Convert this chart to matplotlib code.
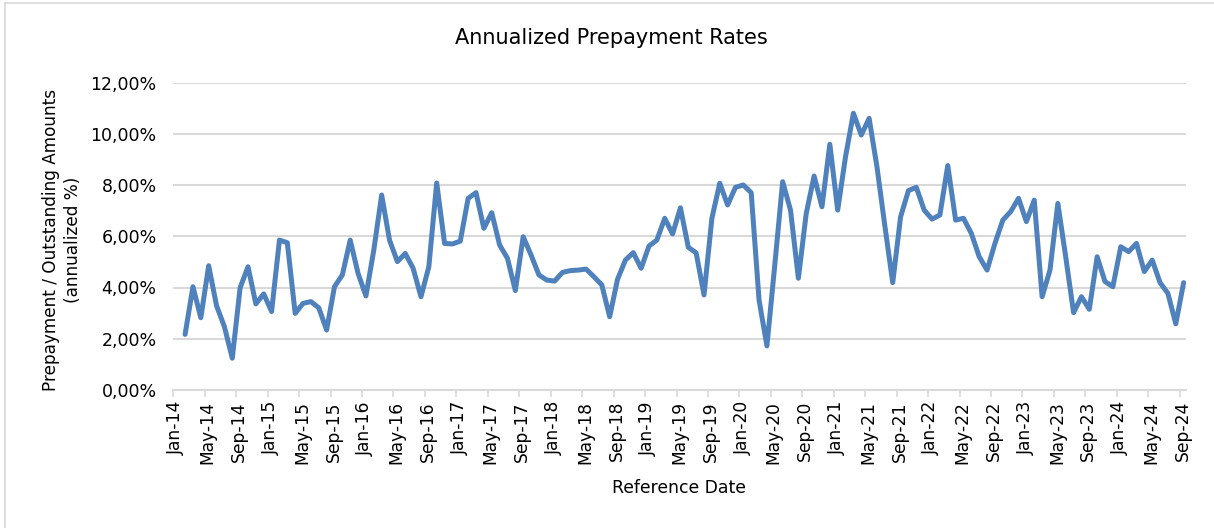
import matplotlib
matplotlib.use("Agg")
import matplotlib.pyplot as plt
from matplotlib.ticker import FuncFormatter, FixedLocator
from matplotlib.lines import Line2D
from matplotlib.transforms import ScaledTranslation

plt.rcParams['font.family'] = ['DejaVu Sans']

# Monthly prepayment rates (%), Feb-14 .. Sep-24
rates = [
    2.17, 4.03, 2.82, 4.85, 3.29, 2.47, 1.24, 3.99, 4.81, 3.36, 3.75, 3.06,
    5.85, 5.75, 2.99, 3.38, 3.45, 3.21, 2.34, 4.03, 4.49, 5.85, 4.55, 3.67,
    5.46, 7.61, 5.85, 5.01, 5.33, 4.75, 3.64, 4.81, 8.08, 5.72, 5.70, 5.81,
    7.48, 7.70, 6.31, 6.92, 5.66, 5.14, 3.88, 5.98, 5.27, 4.49, 4.29, 4.25,
    4.59, 4.66, 4.68, 4.72, 4.42, 4.10, 2.86, 4.32, 5.07, 5.36, 4.75, 5.62,
    5.85, 6.70, 6.09, 7.11, 5.57, 5.35, 3.71, 6.70, 8.07, 7.22, 7.91, 8.00,
    7.70, 3.51, 1.72, 4.88, 8.13, 7.02, 4.36, 6.89, 8.35, 7.15, 9.59, 7.02,
    9.11, 10.80, 9.95, 10.60, 8.70, 6.40, 4.19, 6.76, 7.78, 7.91, 7.02, 6.67,
    6.83, 8.76, 6.63, 6.70, 6.11, 5.20, 4.68, 5.72, 6.63, 6.96, 7.48, 6.57,
    7.41, 3.64, 4.68, 7.28, 5.20, 3.02, 3.64, 3.15, 5.20, 4.23, 4.03, 5.59,
    5.40, 5.72, 4.62, 5.07, 4.19, 3.77, 2.58, 4.19,
]
tick_months = ["Jan", "May", "Sep"]
tick_years = list(range(14, 25))
tick_labels = [f"{m}-{y:02d}" for y in tick_years for m in tick_months]
y_ticks = [0, 2, 4, 6, 8, 10, 12]

title = "Annualized Prepayment Rates"
xlabel = "Reference Date"
ylabel = "Prepayment / Outstanding Amounts\n(annualized %)"

W, H = 1214, 528
fig = plt.figure(figsize=(W / 100, H / 100), dpi=100)
fig.patch.set_facecolor("white")

left, right = 173.3 / W, 1186 / W
bottom, top = 1 - 390 / H, 1 - 82.5 / H
ax = fig.add_axes([left, bottom, right - left, top - bottom])

x = list(range(len(rates)))
ax.plot(x, rates, color="#4f81bd", linewidth=3.6,
        solid_joinstyle="round", solid_capstyle="round", zorder=3, clip_on=False)

ax.set_xlim(-1.5, 127.3)
ax.set_ylim(0, 12)

grid_c = "#d9d9d9"
ax.set_yticks(y_ticks)
ax.yaxis.set_major_formatter(FuncFormatter(lambda v, p: f"{v:.2f}".replace(".", ",") + "%"))
ax.grid(axis="y", color=grid_c, linewidth=1.5, zorder=0)
ax.tick_params(axis="y", length=0, pad=12, labelsize=12.5, labelcolor="#000000")

tick_pos = [-1.5 + 4 * k for k in range(len(tick_labels))]
ax.xaxis.set_major_locator(FixedLocator(tick_pos))
ax.set_xticklabels(tick_labels, rotation=90, ha="center", va="top")
ax.tick_params(axis="x", length=5, width=1.2, color=grid_c, pad=3,
               labelsize=12.3, labelcolor="#000000", direction="out")
shift = ScaledTranslation(3 / 100, 0, fig.dpi_scale_trans)
for lab in ax.get_xticklabels():
    lab.set_transform(lab.get_transform() + shift)

for s in ["left", "right", "top"]:
    ax.spines[s].set_visible(False)
ax.spines["bottom"].set_color(grid_c)
ax.spines["bottom"].set_linewidth(1.5)

fig.text(611 / W, 1 - 38 / H, title, ha="center", va="center", fontsize=15)
fig.text(679 / W, 1 - 488 / H, xlabel, ha="center", va="center", fontsize=12.4)
fig.text(62 / W, 1 - 240 / H, ylabel, ha="center", va="center", rotation=90,
         fontsize=12.2, multialignment="center", linespacing=1.25)

# outer chart border (left and top visible)
fig.add_artist(Line2D([5 / W, 5 / W], [0, 1 - 3 / H], transform=fig.transFigure,
                      color=grid_c, linewidth=1.2))
fig.add_artist(Line2D([5 / W, 1], [1 - 3 / H, 1 - 3 / H], transform=fig.transFigure,
                      color=grid_c, linewidth=1.2))

fig.savefig("out.png", dpi=100, facecolor="white")
